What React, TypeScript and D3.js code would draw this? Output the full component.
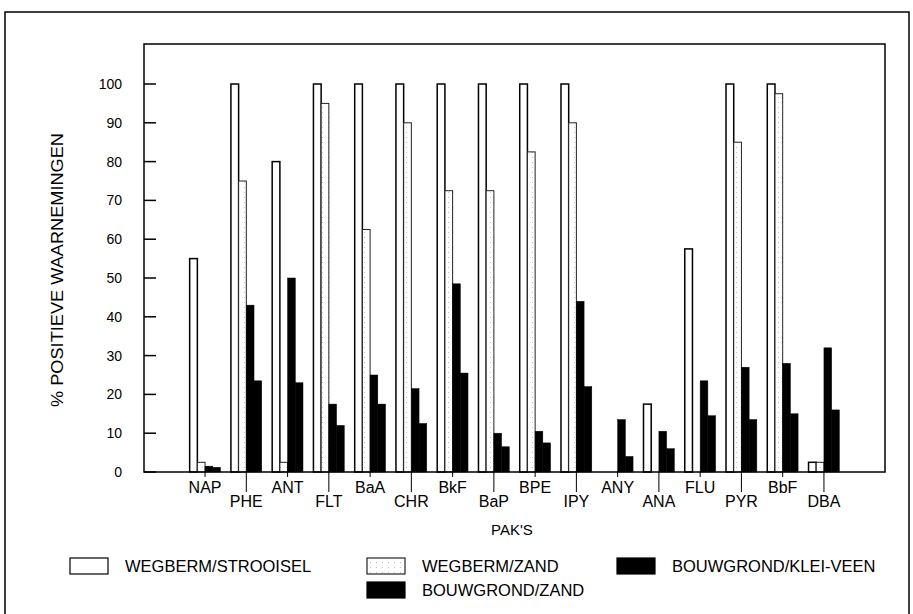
import React from "react";
import * as d3 from "d3";

const categories = ["NAP", "PHE", "ANT", "FLT", "BaA", "CHR", "BkF", "BaP", "BPE", "IPY", "ANY", "ANA", "FLU", "PYR", "BbF", "DBA"];
const wegbermStrooisel = [55, 100, 80, 100, 100, 100, 100, 100, 100, 100, 0, 17.5, 57.5, 100, 100, 2.5];
const wegbermZand = [2.5, 75, 2.5, 95, 62.5, 90, 72.5, 72.5, 82.5, 90, 0, 0, 0, 85, 97.5, 2.5];
const bouwgrondKleiVeen = [1.5, 43, 50, 17.5, 25, 21.5, 48.5, 10, 10.5, 44, 13.5, 10.5, 23.5, 27, 28, 32];
const bouwgrondZand = [1.2, 23.5, 23, 12, 17.5, 12.5, 25.5, 6.5, 7.5, 22, 4, 6, 14.5, 13.5, 15, 16];
const yTicks = [0, 10, 20, 30, 40, 50, 60, 70, 80, 90, 100];
const seriesNames = ["WEGBERM/STROOISEL", "WEGBERM/ZAND", "BOUWGROND/KLEI-VEEN", "BOUWGROND/ZAND"];

const FONT = "'Liberation Sans', Arial, Helvetica, sans-serif";

export default function App() {
  const W = 913, H = 614;
  const left = 144, right = 885, top = 44, bottom = 472;
  const x = d3.scalePoint<string>().domain(categories).range([left, right]).padding(1.48);
  const y = d3.scaleLinear().domain([0, 100]).range([bottom, 84]);
  const bw = 7.7;

  const series = [
    { name: seriesNames[0], values: wegbermStrooisel, fill: "#fff", stroke: "#000", sw: 1.5 },
    { name: seriesNames[1], values: wegbermZand, fill: "url(#zand)", stroke: "#222", sw: 1 },
    { name: seriesNames[2], values: bouwgrondKleiVeen, fill: "#000", stroke: "#000", sw: 0.5 },
    { name: seriesNames[3], values: bouwgrondZand, fill: "#000", stroke: "#000", sw: 0.5 },
  ];

  const legend = [
    { s: series[0], lx: 70, ly: 566 },
    { s: series[1], lx: 367, ly: 566 },
    { s: series[2], lx: 617, ly: 566 },
    { s: series[3], lx: 367, ly: 590 },
  ];

  return (
    <svg width={W} height={H} style={{ position: "absolute", left: 0, top: 0, background: "#fff" }} fontFamily={FONT}>
      <defs>
        <pattern id="zand" width={6} height={5} patternUnits="userSpaceOnUse">
          <rect width={6} height={5} fill="#fff" />
          <circle cx={4.5} cy={2.5} r={0.45} fill="#888" />
        </pattern>
      </defs>
      <rect x={0} y={0} width={W} height={H} fill="#fff" />
      {/* outer frame */}
      <rect x={5} y={12} width={904} height={640} fill="none" stroke="#000" strokeWidth={1.5} />
      {/* bars */}
      {series.map((s, si) =>
        s.values.map((v, i) =>
          v > 0 ? (
            <rect
              key={`${si}-${i}`}
              x={(x(categories[i]) as number) + (si - 2) * bw}
              y={y(v)}
              width={bw}
              height={bottom - y(v)}
              fill={s.fill}
              stroke={s.stroke}
              strokeWidth={s.sw}
            />
          ) : null
        )
      )}
      {/* plot frame */}
      <rect x={left} y={top} width={right - left} height={bottom - top} fill="none" stroke="#000" strokeWidth={1.5} />
      {/* y ticks */}
      {yTicks.map((t) => (
        <g key={t}>
          <line x1={left} x2={left + 12} y1={y(t)} y2={y(t)} stroke="#000" strokeWidth={1.5} />
          <text x={122} y={y(t) + 5} textAnchor="end" fontSize={14}>{t}</text>
        </g>
      ))}
      <text
        transform={`translate(63,270) rotate(-90)`}
        textAnchor="middle"
        fontSize={16.5}
        textLength={274}
        lengthAdjust="spacingAndGlyphs"
      >% POSITIEVE WAARNEMINGEN</text>
      {/* x ticks + labels */}
      {categories.map((c, i) => {
        const cx = x(c) as number;
        const low = i % 2 === 1;
        return (
          <g key={c}>
            <line x1={cx} x2={cx} y1={bottom} y2={low ? bottom + 20 : bottom + 5} stroke="#000" strokeWidth={1} />
            <text x={cx} y={low ? 507 : 493} textAnchor="middle" fontSize={16}>{c}</text>
          </g>
        );
      })}
      <text x={512} y={535} textAnchor="middle" fontSize={15}>PAK'S</text>
      {/* legend */}
      {legend.map(({ s, lx, ly }) => (
        <g key={s.name}>
          <rect x={lx} y={ly - 8} width={38} height={16} fill={s.fill} stroke={s.stroke} strokeWidth={1.2} />
          <text x={lx + 55} y={ly + 6} fontSize={16.5}>{s.name}</text>
        </g>
      ))}
    </svg>
  );
}
